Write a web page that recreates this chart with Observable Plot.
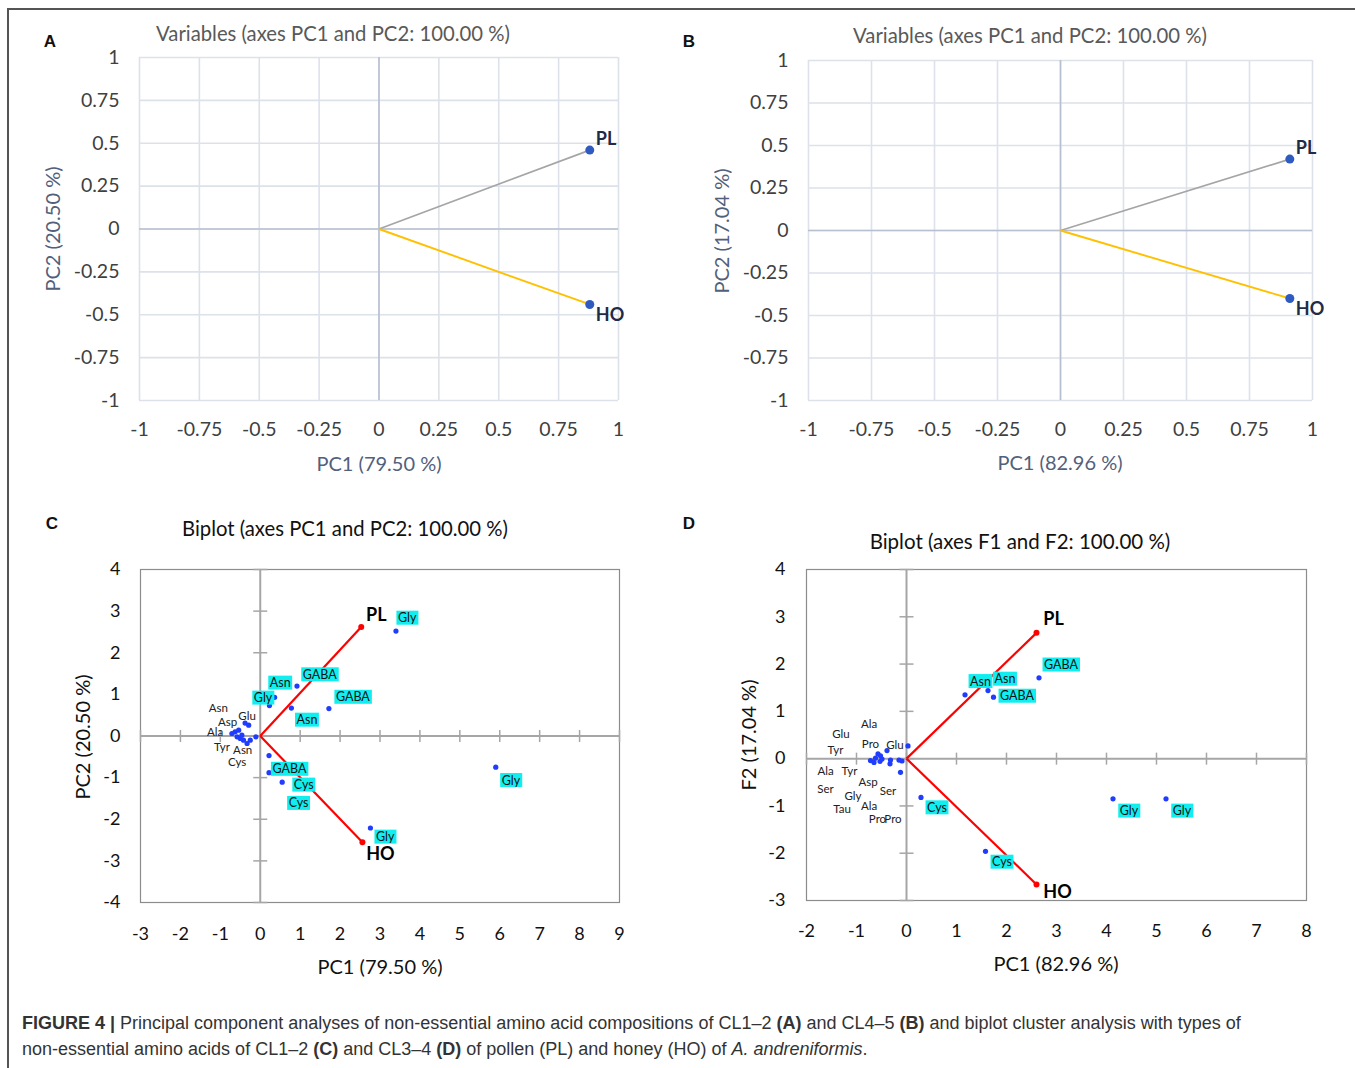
<!DOCTYPE html>
<html><head><meta charset="utf-8">
<script src="https://cdn.jsdelivr.net/npm/d3@7"></script>
<script src="https://cdn.jsdelivr.net/npm/@observablehq/plot@0.6"></script>
<style>
body{margin:0;background:#fff;}
#fig{position:relative;width:1355px;height:1068px;overflow:hidden;font-family:Lato,"Open Sans",sans-serif;background:#fff;}
.frame{position:absolute;left:7px;top:8px;width:1400px;height:1100px;border-top:2px solid #555;border-left:2px solid #555;}
.panel{position:absolute;}
.txt{position:absolute;white-space:nowrap;transform:translate(-50%,-50%);line-height:1;}
.rot{transform:translate(-50%,-50%) rotate(-90deg);}
.letter{position:absolute;font-family:"Liberation Sans",Arial,sans-serif;font-weight:bold;font-size:17px;transform:translate(-50%,-50%);color:#111;}
#cap{position:absolute;left:22px;top:1010px;font-family:"Liberation Sans",Arial,sans-serif;font-size:18px;line-height:26px;color:#333;white-space:nowrap;}
</style>
</head><body>
<div id="fig">
  <div class="frame"></div>
  <div class="letter" style="left:50px;top:42px">A</div>
  <div class="letter" style="left:689px;top:42px">B</div>
  <div class="letter" style="left:52px;top:524px">C</div>
  <div class="letter" style="left:689px;top:524px">D</div>

  <div class="txt" style="left:333px;top:33px;font-size:20.3px;color:#595959">Variables (axes PC1 and PC2: 100.00 %)</div>
  <div class="txt rot" style="left:52px;top:229px;font-size:20px;color:#52607a">PC2 (20.50 %)</div>
  <div class="txt" style="left:379px;top:463px;font-size:20px;color:#52607a">PC1 (79.50 %)</div>

  <div class="txt" style="left:1030px;top:35px;font-size:20.3px;color:#595959">Variables (axes PC1 and PC2: 100.00 %)</div>
  <div class="txt rot" style="left:721px;top:231px;font-size:20px;color:#52607a">PC2 (17.04 %)</div>
  <div class="txt" style="left:1060px;top:462px;font-size:20px;color:#52607a">PC1 (82.96 %)</div>

  <div class="txt" style="left:345px;top:528px;font-size:20.3px;color:#111">Biplot (axes PC1 and PC2: 100.00 %)</div>
  <div class="txt rot" style="left:82px;top:737px;font-size:20px;color:#111">PC2 (20.50 %)</div>
  <div class="txt" style="left:380px;top:966px;font-size:20px;color:#111">PC1 (79.50 %)</div>

  <div class="txt" style="left:1020px;top:541px;font-size:20.5px;color:#111">Biplot (axes F1 and F2: 100.00 %)</div>
  <div class="txt rot" style="left:748px;top:735px;font-size:20px;color:#111">F2 (17.04 %)</div>
  <div class="txt" style="left:1056px;top:963px;font-size:20px;color:#111">PC1 (82.96 %)</div>

  <div id="pA" class="panel" style="left:0px;top:0px"></div>
  <div id="pB" class="panel" style="left:680px;top:0px"></div>
  <div id="pC" class="panel" style="left:0px;top:490px"></div>
  <div id="pD" class="panel" style="left:680px;top:490px"></div>

  <div id="cap"><b>FIGURE 4 |</b> Principal component analyses of non-essential amino acid compositions of CL1–2 <b>(A)</b> and CL4–5 <b>(B)</b> and biplot cluster analysis with types of<br>non-essential amino acids of CL1–2 <b>(C)</b> and CL3–4 <b>(D)</b> of pollen (PL) and honey (HO) of <i>A. andreniformis</i>.</div>
</div>
<script>
// ================= DATA =================
const vecNames = ["PL", "HO"];

// Panels A & B: correlation circles
const ticksAB = [-1, -0.75, -0.5, -0.25, 0, 0.25, 0.5, 0.75, 1];
const vecA_x = [0.88, 0.88];
const vecA_y = [0.46, -0.44];
const vecB_x = [0.91, 0.91];
const vecB_y = [0.42, -0.40];

// Panel C: biplot CL1-2
const ticksC_x = [-3, -2, -1, 0, 1, 2, 3, 4, 5, 6, 7, 8, 9];
const ticksC_y = [-4, -3, -2, -1, 0, 1, 2, 3, 4];
const vecC_x = [2.53, 2.56];
const vecC_y = [2.62, -2.55];
const ptsC_x = [3.40, 0.92, 0.36, 0.23, 0.78, 1.72, -0.11, 0.22, 0.22, 0.55, 2.76, 5.90,
                -0.71, -0.63, -0.54, -0.58, -0.50, -0.42, -0.33, -0.25, -0.38, -0.29, -0.46];
const ptsC_y = [2.52, 1.20, 0.93, 0.73, 0.67, 0.66, -0.02, -0.47, -0.88, -1.11, -2.21, -0.75,
                0.06, 0.10, 0.14, -0.02, -0.06, -0.10, -0.18, -0.10, 0.31, 0.26, 0.02];
const hlC_name = ["Gly", "GABA", "Asn", "Gly", "GABA", "Asn", "GABA", "Cys", "Cys", "Gly", "Gly"];
const hlC_x = [3.68, 1.49, 0.50, 0.07, 2.32, 1.17, 0.73, 1.09, 0.96, 3.13, 6.28];
const hlC_y = [2.83, 1.47, 1.27, 0.91, 0.93, 0.38, -0.80, -1.18, -1.62, -2.43, -1.07];
const lbC_name = ["Asn", "Asp", "Glu", "Ala", "Tyr", "Asn", "Cys"];
const lbC_x = [-1.05, -0.82, -0.33, -1.13, -0.96, -0.44, -0.58];
const lbC_y = [0.67, 0.34, 0.48, 0.10, -0.26, -0.35, -0.63];

// Panel D: biplot CL3-4
const ticksD_x = [-2, -1, 0, 1, 2, 3, 4, 5, 6, 7, 8];
const ticksD_y = [-3, -2, -1, 0, 1, 2, 3, 4];
const vecD_x = [2.60, 2.60];
const vecD_y = [2.66, -2.66];
const ptsD_x = [1.17, 1.63, 1.74, 2.65, 4.13, 5.19, 1.58, 0.29, 0.03, -0.09, -0.12,
                -0.72, -0.65, -0.57, -0.52, -0.49, -0.53, -0.62, -0.39, -0.33, -0.32, -0.15];
const ptsD_y = [1.35, 1.44, 1.30, 1.71, -0.85, -0.85, -1.96, -0.82, 0.27, -0.05, -0.29,
                -0.04, -0.08, 0.10, 0.06, -0.01, -0.06, 0.01, 0.17, -0.11, -0.03, -0.03];
const hlD_name = ["Asn", "Asn", "GABA", "GABA", "Gly", "Gly", "Cys", "Cys"];
const hlD_x = [1.48, 1.97, 2.21, 3.09, 4.45, 5.51, 1.91, 0.61];
const hlD_y = [1.63, 1.68, 1.32, 1.98, -1.11, -1.11, -2.19, -1.04];
const lbD_name = ["Ala", "Glu", "Pro", "Glu", "Tyr", "Ala", "Tyr", "Asp", "Ser", "Ser", "Gly", "Tau", "Ala", "Pro", "Pro"];
const lbD_x = [-0.75, -1.31, -0.72, -0.23, -1.42, -1.62, -1.14, -0.77, -1.62, -0.37, -1.07, -1.29, -0.75, -0.58, -0.27];
const lbD_y = [0.72, 0.52, 0.30, 0.29, 0.17, -0.27, -0.27, -0.49, -0.64, -0.69, -0.80, -1.08, -1.01, -1.29, -1.29];

// ================= RENDER =================
const fmt = d => String(d);
const zero = () => 0;
const vTick = {draw(ctx) { ctx.moveTo(0, -6); ctx.lineTo(0, 6); }};
const hTick = {draw(ctx) { ctx.moveTo(-7, 0); ctx.lineTo(7, 0); }};

function varPlot(o) {
  const vec = o.vx.map((x, i) => ({name: vecNames[i], x, y: o.vy[i]}));
  const pl = vec.filter(d => d.name === "PL"), ho = vec.filter(d => d.name === "HO");
  return Plot.plot({
    width: o.w, height: o.h,
    marginLeft: o.ml, marginRight: o.mr, marginTop: o.mt, marginBottom: o.mb,
    x: {domain: [-1, 1], ticks: ticksAB, tickSize: 0, tickPadding: 22, tickFormat: fmt, label: null},
    y: {domain: [-1, 1], ticks: ticksAB, tickSize: 0, tickPadding: 20, tickFormat: fmt, label: null},
    style: {fontFamily: "Lato, 'Open Sans', sans-serif", fontSize: "19.5px", color: "#404040", background: "transparent", overflow: "visible"},
    marks: [
      Plot.ruleX(ticksAB, {stroke: "#dde2ea", strokeWidth: 1.6}),
      Plot.ruleY(ticksAB, {stroke: "#dde2ea", strokeWidth: 1.6}),
      Plot.ruleX([0], {stroke: "#b7c0d0", strokeWidth: 1.6}),
      Plot.ruleY([0], {stroke: "#b7c0d0", strokeWidth: 1.6}),
      Plot.link(pl, {x1: zero, y1: zero, x2: "x", y2: "y", stroke: "#a5a5a5", strokeWidth: 1.7}),
      Plot.link(ho, {x1: zero, y1: zero, x2: "x", y2: "y", stroke: "#ffc000", strokeWidth: 1.9}),
      Plot.dot(vec, {x: "x", y: "y", r: 4.5, fill: "#2f5bc0"}),
      Plot.text(pl, {x: "x", y: "y", text: "name", dx: 6, dy: -11, textAnchor: "start", fontWeight: "bold", fontSize: 18, fill: "#1f2b47"}),
      Plot.text(ho, {x: "x", y: "y", text: "name", dx: 6, dy: 11, textAnchor: "start", fontWeight: "bold", fontSize: 18, fill: "#1f2b47"})
    ]
  });
}

function biplot(o) {
  const vec = o.vx.map((x, i) => ({name: vecNames[i], x, y: o.vy[i]}));
  const pl = vec.filter(d => d.name === "PL"), ho = vec.filter(d => d.name === "HO");
  const pts = o.px.map((x, i) => ({x, y: o.py[i]}));
  const hl = o.hn.map((n, i) => ({n, x: o.hx[i], y: o.hy[i]}));
  const lb = o.ln.map((n, i) => ({n, x: o.lx[i], y: o.ly[i]}));
  return Plot.plot({
    width: o.w, height: o.h,
    marginLeft: o.ml, marginRight: o.mr, marginTop: o.mt, marginBottom: o.mb,
    x: {domain: [o.xt[0], o.xt[o.xt.length - 1]], ticks: o.xt, tickSize: 0, tickPadding: o.xpad, tickFormat: fmt, label: null},
    y: {domain: [o.yt[0], o.yt[o.yt.length - 1]], ticks: o.yt, tickSize: 0, tickPadding: o.ypad, tickFormat: fmt, label: null},
    style: {fontFamily: "Lato, 'Open Sans', sans-serif", fontSize: "18px", color: "#111", background: "transparent", overflow: "visible"},
    marks: [
      Plot.frame({stroke: "#8c8c8c", strokeWidth: 1.2}),
      Plot.ruleX([0], {stroke: "#a6a6a6", strokeWidth: 2}),
      Plot.ruleY([0], {stroke: "#a6a6a6", strokeWidth: 2}),
      Plot.dot(o.xt, {x: d => d, y: zero, symbol: vTick, r: 6, fill: "none", stroke: "#a6a6a6", strokeWidth: 1.5}),
      Plot.dot(o.yt, {x: zero, y: d => d, symbol: hTick, r: 6, fill: "none", stroke: "#a6a6a6", strokeWidth: 1.5}),
      Plot.link(vec, {x1: zero, y1: zero, x2: "x", y2: "y", stroke: "#ff0000", strokeWidth: 2.2}),
      Plot.dot(vec, {x: "x", y: "y", r: 3, fill: "#ff0000"}),
      Plot.dot(pts, {x: "x", y: "y", r: 2.6, fill: "#1f3cff"}),
      Plot.text(lb, {x: "x", y: "y", text: "n", fontSize: 11.5, fill: "#222"}),
      Plot.text(hl, {x: "x", y: "y", text: "n", fontSize: 12.5, fill: "#111", ariaDescription: "hl-labels"}),
      Plot.text(pl, {x: "x", y: "y", text: "name", dx: o.pldx, dy: o.pldy, fontWeight: "bold", fontSize: 18, fill: "#000"}),
      Plot.text(ho, {x: "x", y: "y", text: "name", dx: o.hodx, dy: o.hody, fontWeight: "bold", fontSize: 18, fill: "#000"})
    ]
  });
}

function addBoxes(svg) {
  let nodes = svg.querySelectorAll('g[aria-description="hl-labels"] text');
  if (!nodes.length) {
    const groups = Array.from(svg.querySelectorAll('g[aria-label="text"]'));
    const g = groups[groups.length - 3];
    nodes = g ? g.querySelectorAll("text") : [];
  }
  nodes.forEach(t => {
    const b = t.getBBox();
    const r = document.createElementNS("http://www.w3.org/2000/svg", "rect");
    r.setAttribute("x", b.x - 1.5);
    r.setAttribute("y", b.y + 0.5);
    r.setAttribute("width", b.width + 3);
    r.setAttribute("height", b.height - 1);
    r.setAttribute("fill", "#11eef0");
    if (t.getAttribute("transform")) r.setAttribute("transform", t.getAttribute("transform"));
    t.parentNode.insertBefore(r, t);
  });
}

document.getElementById("pA").append(varPlot({vx: vecA_x, vy: vecA_y, w: 680, h: 490, ml: 139, mr: 62, mt: 57, mb: 90}));
document.getElementById("pB").append(varPlot({vx: vecB_x, vy: vecB_y, w: 675, h: 490, ml: 128, mr: 43, mt: 60, mb: 90}));

const svgC = biplot({vx: vecC_x, vy: vecC_y, px: ptsC_x, py: ptsC_y, hn: hlC_name, hx: hlC_x, hy: hlC_y,
  ln: lbC_name, lx: lbC_x, ly: lbC_y, xt: ticksC_x, yt: ticksC_y,
  w: 680, h: 510, ml: 140, mr: 61, mt: 79, mb: 98, xpad: 25, ypad: 20, pldx: 15, pldy: -12, hodx: 18, hody: 12});
document.getElementById("pC").append(svgC);
addBoxes(svgC);

const svgD = biplot({vx: vecD_x, vy: vecD_y, px: ptsD_x, py: ptsD_y, hn: hlD_name, hx: hlD_x, hy: hlD_y,
  ln: lbD_name, lx: lbD_x, ly: lbD_y, xt: ticksD_x, yt: ticksD_y,
  w: 675, h: 510, ml: 126, mr: 49, mt: 79, mb: 100, xpad: 24, ypad: 21, pldx: 17, pldy: -14, hodx: 21, hody: 8});
document.getElementById("pD").append(svgD);
addBoxes(svgD);
</script>
</body></html>
